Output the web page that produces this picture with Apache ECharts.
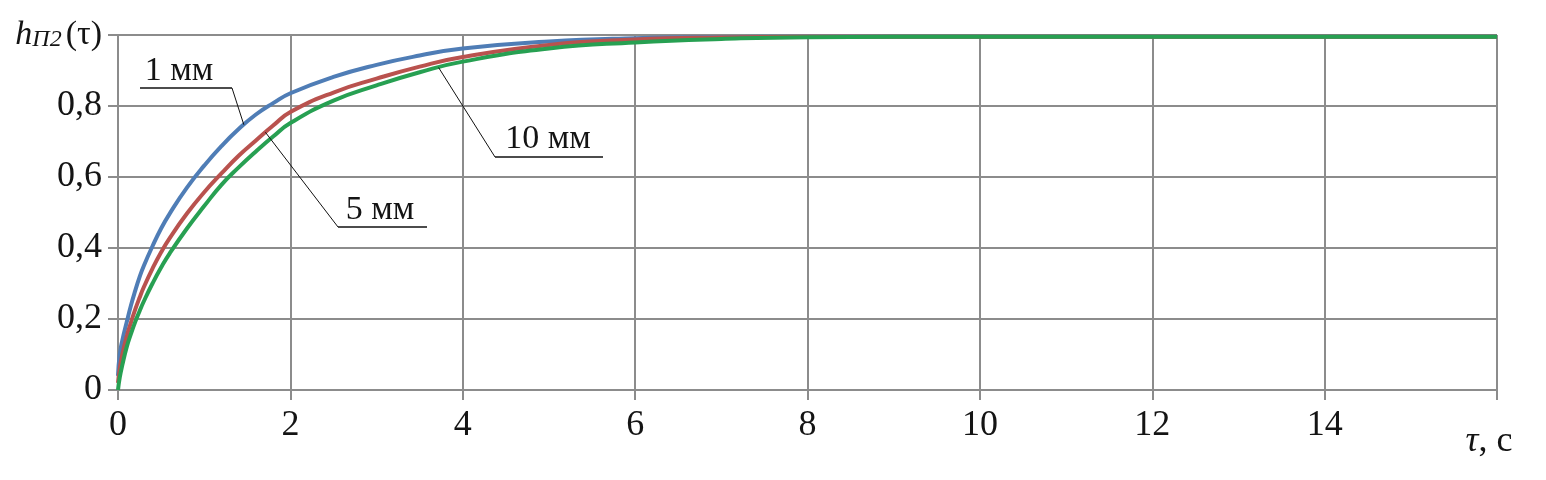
<!DOCTYPE html>
<html>
<head>
<meta charset="utf-8">
<script src="https://cdn.jsdelivr.net/npm/echarts@6/dist/echarts.min.js"></script>
<style>
html,body{margin:0;padding:0;background:#fff;}
#c{width:1546px;height:480px;}
</style>
</head>
<body>
<div id="c"></div>
<script>
// time, s
var tau   = [0, 0.02, 0.05, 0.1, 0.15, 0.2, 0.25, 0.3, 0.4, 0.5, 0.6, 0.8, 1.0, 1.2, 1.4, 1.6, 1.8, 2.0, 2.5, 3.0, 3.5, 4.0, 5.0, 6.0, 7.0, 8.0, 10, 12, 14, 16];
var h1mm  = [0.04, 0.10, 0.14, 0.19, 0.238, 0.28, 0.318, 0.35, 0.405, 0.455, 0.497, 0.57, 0.632, 0.687, 0.735, 0.776, 0.808, 0.836, 0.882, 0.916, 0.942, 0.962, 0.982, 0.991, 0.994, 0.995, 0.995, 0.995, 0.995, 0.995];
var h5mm  = [0.02, 0.06, 0.10, 0.15, 0.19, 0.227, 0.26, 0.29, 0.342, 0.388, 0.428, 0.497, 0.557, 0.61, 0.66, 0.703, 0.745, 0.783, 0.838, 0.877, 0.911, 0.938, 0.972, 0.987, 0.993, 0.995, 0.995, 0.995, 0.995, 0.995];
var h10mm = [0.0, 0.035, 0.07, 0.12, 0.158, 0.192, 0.222, 0.25, 0.30, 0.345, 0.385, 0.455, 0.518, 0.578, 0.627, 0.672, 0.714, 0.752, 0.815, 0.858, 0.895, 0.925, 0.962, 0.979, 0.989, 0.994, 0.995, 0.995, 0.995, 0.995];
var seriesNames = ['1 мм', '5 мм', '10 мм'];
var xTicks = [0, 2, 4, 6, 8, 10, 12, 14];
var yTickLabels = ['0', '0,2', '0,4', '0,6', '0,8'];

function pairs(ys){ return tau.map(function(t,i){ return [t, ys[i]]; }); }

var serif = 'Liberation Serif, Times New Roman, serif';
var gridColor = '#8c8c8c';
var txt = '#141414';
var colors = ['#4f7db6', '#b9524e', '#27a052'];

var chart = echarts.init(document.getElementById('c'));
var option = {
  animation: false,
  backgroundColor: '#fff',
  grid: {left: 118, right: 49, top: 35, bottom: 90},
  xAxis: {
    type: 'value', min: 0, max: 16, interval: 2,
    axisLine: {show: true, lineStyle: {color: gridColor, width: 2}},
    axisTick: {show: true, length: 10, lineStyle: {color: gridColor, width: 2}},
    splitLine: {show: true, lineStyle: {color: gridColor, width: 2}},
    axisLabel: {
      fontFamily: serif, fontSize: 36, color: txt, margin: 18,
      formatter: function(v){
        if (v === 16) return '{t|τ}{c|, с}';
        return xTicks.indexOf(v) >= 0 ? String(v) : '';
      },
      rich: {
        t: {fontFamily: serif, fontSize: 36, fontStyle: 'italic', color: txt, padding: [16,0,0,0]},
        c: {fontFamily: serif, fontSize: 36, color: txt, padding: [16,16,0,0]}
      }
    }
  },
  yAxis: {
    type: 'value', min: 0, max: 1, interval: 0.2,
    axisLine: {show: true, lineStyle: {color: gridColor, width: 2}},
    axisTick: {show: true, length: 10, lineStyle: {color: gridColor, width: 2}},
    splitLine: {show: true, lineStyle: {color: gridColor, width: 2}},
    axisLabel: {
      fontFamily: serif, fontSize: 36, color: txt, margin: 16,
      formatter: function(v){
        var i = Math.round(v / 0.2);
        if (i === 5) return '{h|h}{s|П2}{p|(τ)}';
        return yTickLabels[i];
      },
      rich: {
        h: {fontFamily: serif, fontSize: 34, fontStyle: 'italic', color: txt},
        s: {fontFamily: serif, fontSize: 24, fontStyle: 'italic', color: txt, verticalAlign: 'bottom', padding: [0,4,0,0]},
        p: {fontFamily: serif, fontSize: 34, color: txt}
      }
    }
  },
  series: [h1mm, h5mm, h10mm].map(function(d, i){
    return {
      name: seriesNames[i], type: 'line', smooth: 0.5, showSymbol: false,
      data: pairs(d), lineStyle: {color: colors[i], width: 4}, z: 3 + i
    };
  })
};
chart.setOption(option);

// annotation anchors (on each curve, by time) and label placement (px)
var annAnchorT = [1.46, 1.71, 3.72];
var annLayout = [
  {tx: 179, ty: 71, ux1: 140, ux2: 232, uy: 88, from: 'right'},
  {tx: 380, ty: 210, ux1: 338, ux2: 427, uy: 227, from: 'left'},
  {tx: 548, ty: 139, ux1: 495, ux2: 603, uy: 157, from: 'left'}
];
function interp(t, ys){
  for (var i = 0; i < tau.length - 1; i++) {
    if (t >= tau[i] && t <= tau[i+1]) {
      var f = (t - tau[i]) / (tau[i+1] - tau[i]);
      return ys[i] + f * (ys[i+1] - ys[i]);
    }
  }
  return ys[ys.length-1];
}
var dataSets = [h1mm, h5mm, h10mm];
var g = [];
annLayout.forEach(function(L, i){
  var p = chart.convertToPixel({gridIndex: 0}, [annAnchorT[i], interp(annAnchorT[i], dataSets[i])]);
  var sx = L.from === 'right' ? L.ux2 : L.ux1;
  g.push({type: 'text', x: L.tx, y: L.ty, style: {text: seriesNames[i], font: '34px ' + serif, fill: txt, align: 'center', verticalAlign: 'middle'}, z: 10});
  g.push({type: 'line', shape: {x1: L.ux1, y1: L.uy, x2: L.ux2, y2: L.uy}, style: {stroke: '#111', lineWidth: 1.5}, z: 10});
  g.push({type: 'line', shape: {x1: sx, y1: L.uy, x2: p[0], y2: p[1]}, style: {stroke: '#111', lineWidth: 1}, z: 10});
});
chart.setOption({graphic: g});
</script>
</body>
</html>
